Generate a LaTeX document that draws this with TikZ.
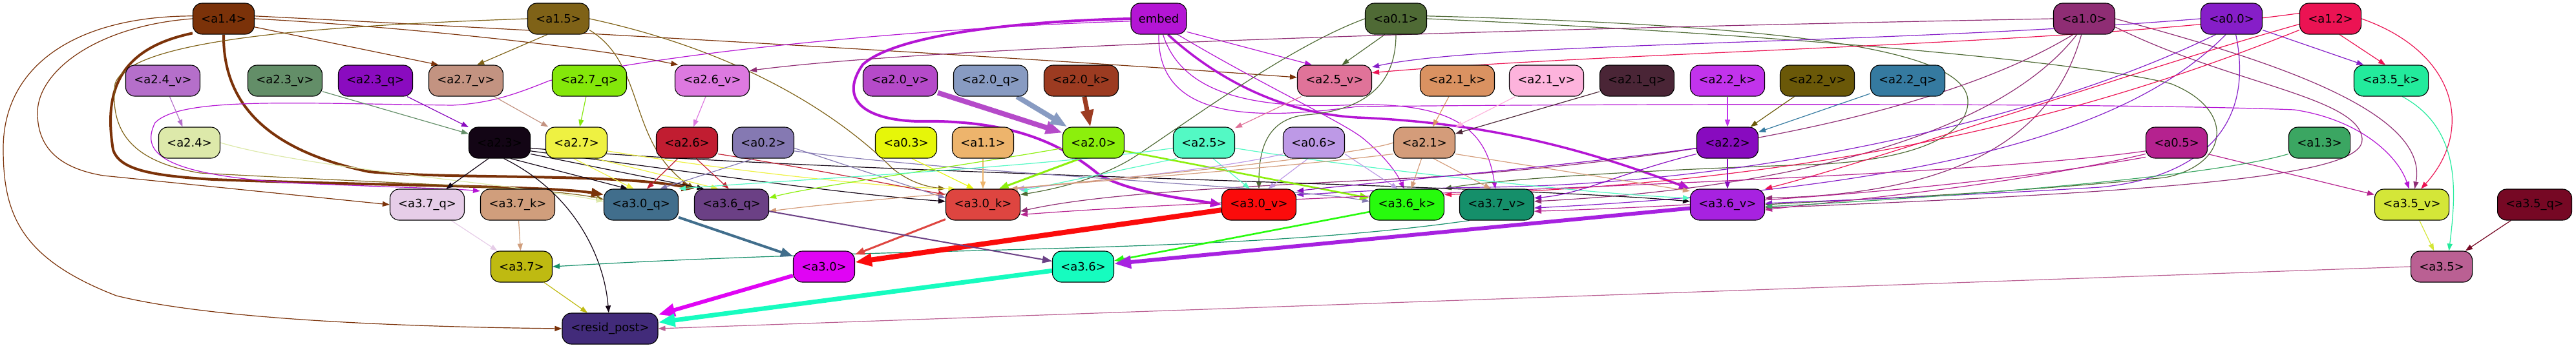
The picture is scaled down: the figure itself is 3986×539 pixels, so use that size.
\documentclass[tikz,border=0pt]{standalone}
\usepackage{fontspec}
\setmainfont{DejaVu Sans}
\usetikzlibrary{arrows.meta}
\pgfdeclarelayer{bg}
\pgfsetlayers{bg,main}
\definecolor{c14}{HTML}{7B3209}\definecolor{c15}{HTML}{7F6217}\definecolor{cemb}{HTML}{B415D4}
\definecolor{c01}{HTML}{4F6A35}\definecolor{c10}{HTML}{8F2D74}\definecolor{c00}{HTML}{861EC8}
\definecolor{c12}{HTML}{EB1353}\definecolor{c24v}{HTML}{B56FCA}\definecolor{c23v}{HTML}{638E68}
\definecolor{c23q}{HTML}{8A0BBF}\definecolor{c27v}{HTML}{C39381}\definecolor{c27q}{HTML}{84E70A}
\definecolor{c26v}{HTML}{DD79E0}\definecolor{c20v}{HTML}{B54AC9}\definecolor{c20q}{HTML}{889BC2}
\definecolor{c20k}{HTML}{9C3B21}\definecolor{c25v}{HTML}{E07399}\definecolor{c21k}{HTML}{DA9261}
\definecolor{c21v}{HTML}{FDB3DC}\definecolor{c21q}{HTML}{4A2536}\definecolor{c22k}{HTML}{C233EC}
\definecolor{c22v}{HTML}{6A5808}\definecolor{c22q}{HTML}{357AA0}\definecolor{c35k}{HTML}{23EB9C}
\definecolor{c24}{HTML}{DDE9AA}\definecolor{c23}{HTML}{130515}\definecolor{c27}{HTML}{EEF142}
\definecolor{c26}{HTML}{C11D31}\definecolor{c02}{HTML}{8579B2}\definecolor{c03}{HTML}{E6F609}
\definecolor{c11}{HTML}{EDB46C}\definecolor{c20}{HTML}{8CEF0C}\definecolor{c25}{HTML}{53F9C4}
\definecolor{c06}{HTML}{BD99E6}\definecolor{c21}{HTML}{D49C7A}\definecolor{c22}{HTML}{880BBF}
\definecolor{c05}{HTML}{B5228F}\definecolor{c13}{HTML}{3BA662}\definecolor{c37q}{HTML}{E6CDE8}
\definecolor{c37k}{HTML}{D09E7C}\definecolor{c30q}{HTML}{416E8C}\definecolor{c36q}{HTML}{6B4085}
\definecolor{c30k}{HTML}{DE4540}\definecolor{c30v}{HTML}{FB0B0B}\definecolor{c36k}{HTML}{27FB0D}
\definecolor{c37v}{HTML}{158F6A}\definecolor{c36v}{HTML}{A722E0}\definecolor{c35v}{HTML}{D4E638}
\definecolor{c35q}{HTML}{760824}\definecolor{c37}{HTML}{BFBA11}\definecolor{c30}{HTML}{E004F4}
\definecolor{c36}{HTML}{16FCBF}\definecolor{c35}{HTML}{BA6093}\definecolor{cres}{HTML}{422B7A}
\tikzset{
 nd/.style={draw=black, line width=1.1bp, rounded corners=14bp, minimum height=48bp, inner sep=0pt, font=\fontsize{18}{21}\selectfont, text=black},
 wa/.style={minimum width=95bp},
 wb/.style={minimum width=115bp},
 ar/.style={-{Triangle[length=11bp,width=8bp]}, line width=1.2bp},
 arb/.style={-{Triangle[length=15bp,width=11bp]}, line width=2.6bp},
 arc/.style={-{Triangle[length=19bp,width=14bp]}, line width=4bp},
 ard/.style={-{Triangle[length=26bp,width=19bp]}, line width=7bp},
}
\begin{document}
\begin{tikzpicture}[x=1bp,y=-1bp]
\useasboundingbox (0,0) rectangle (3986,539);
% row 1
\node[nd,wa,fill=c14] (a14) at (346,29) {<a1.4>};
\node[nd,wa,fill=c15] (a15) at (864,29) {<a1.5>};
\node[nd,minimum width=86bp,fill=cemb] (embed) at (1793,29) {embed};
\node[nd,wa,fill=c01] (a01) at (2160,29) {<a0.1>};
\node[nd,wa,fill=c10] (a10) at (3225,29) {<a1.0>};
\node[nd,wa,fill=c00] (a00) at (3453,29) {<a0.0>};
\node[nd,wa,fill=c12] (a12) at (3606,29) {<a1.2>};
% row 2
\node[nd,wb,fill=c24v] (a24v) at (252,125) {<a2.4\_v>};
\node[nd,wb,fill=c23v] (a23v) at (441,125) {<a2.3\_v>};
\node[nd,wb,fill=c23q] (a23q) at (581,125) {<a2.3\_q>};
\node[nd,wb,fill=c27v] (a27v) at (721,125) {<a2.7\_v>};
\node[nd,wb,fill=c27q] (a27q) at (912,125) {<a2.7\_q>};
\node[nd,wb,fill=c26v] (a26v) at (1102,125) {<a2.6\_v>};
\node[nd,wb,fill=c20v] (a20v) at (1393,125) {<a2.0\_v>};
\node[nd,wb,fill=c20q] (a20q) at (1533,125) {<a2.0\_q>};
\node[nd,wb,fill=c20k] (a20k) at (1673,125) {<a2.0\_k>};
\node[nd,wb,fill=c25v] (a25v) at (2065,125) {<a2.5\_v>};
\node[nd,wb,fill=c21k] (a21k) at (2255,125) {<a2.1\_k>};
\node[nd,wb,fill=c21v] (a21v) at (2393,125) {<a2.1\_v>};
\node[nd,wb,fill=c21q] (a21q) at (2533,125) {<a2.1\_q>};
\node[nd,wb,fill=c22k] (a22k) at (2673,125) {<a2.2\_k>};
\node[nd,wb,fill=c22v] (a22v) at (2812,125) {<a2.2\_v>};
\node[nd,wb,fill=c22q] (a22q) at (2952,125) {<a2.2\_q>};
\node[nd,wb,fill=c35k] (a35k) at (3700,125) {<a3.5\_k>};
% row 3
\node[nd,wa,fill=c24] (a24) at (293,221) {<a2.4>};
\node[nd,wa,fill=c23] (a23) at (773,221) {<a2.3>};
\node[nd,wa,fill=c27] (a27) at (892,221) {<a2.7>};
\node[nd,wa,fill=c26] (a26) at (1063,221) {<a2.6>};
\node[nd,wa,fill=c02] (a02) at (1181,221) {<a0.2>};
\node[nd,wa,fill=c03] (a03) at (1402,221) {<a0.3>};
\node[nd,wa,fill=c11] (a11) at (1521,221) {<a1.1>};
\node[nd,wa,fill=c20] (a20) at (1692,221) {<a2.0>};
\node[nd,wa,fill=c25] (a25) at (1863,221) {<a2.5>};
\node[nd,wa,fill=c06] (a06) at (2033,221) {<a0.6>};
\node[nd,wa,fill=c21] (a21) at (2204,221) {<a2.1>};
\node[nd,wa,fill=c22] (a22) at (2673,221) {<a2.2>};
\node[nd,wa,fill=c05] (a05) at (3368,221) {<a0.5>};
\node[nd,wa,fill=c13] (a13) at (3589,221) {<a1.3>};
% row 4
\node[nd,wb,fill=c37q] (a37q) at (661,317) {<a3.7\_q>};
\node[nd,wb,fill=c37k] (a37k) at (801,317) {<a3.7\_k>};
\node[nd,wb,fill=c30q] (a30q) at (992,317) {<a3.0\_q>};
\node[nd,wb,fill=c36q] (a36q) at (1132,317) {<a3.6\_q>};
\node[nd,wb,fill=c30k] (a30k) at (1521,317) {<a3.0\_k>};
\node[nd,wb,fill=c30v] (a30v) at (1948,317) {<a3.0\_v>};
\node[nd,wb,fill=c36k] (a36k) at (2177,317) {<a3.6\_k>};
\node[nd,wb,fill=c37v] (a37v) at (2316,317) {<a3.7\_v>};
\node[nd,wb,fill=c36v] (a36v) at (2673,317) {<a3.6\_v>};
\node[nd,wb,fill=c35v] (a35v) at (3732,317) {<a3.5\_v>};
\node[nd,wb,fill=c35q] (a35q) at (3922,317) {<a3.5\_q>};
% row 5
\node[nd,wa,fill=c37] (a37) at (807,413) {<a3.7>};
\node[nd,wa,fill=c30] (a30) at (1275,413) {<a3.0>};
\node[nd,wa,fill=c36] (a36) at (1676,413) {<a3.6>};
\node[nd,wa,fill=c35] (a35) at (3778,413) {<a3.5>};
% row 6
\node[nd,minimum width=148bp,fill=cres] (resid) at (944,509) {<resid\_post>};

\begin{pgfonlayer}{bg}
% a1.4
\draw[ar,c14] (a14.-15) -- (a27v.150);
\draw[ar,c14] (a14.east) .. controls (600,40) and (900,70) .. (a26v.155);
\draw[ar,c14] (a14.5) .. controls (900,50) and (1600,90) .. (a25v.175);
\draw[ar,c14] (a14.west) .. controls (150,40) and (58,110) .. (58,175) .. controls (58,235) and (100,262) .. (160,272) -- (a37q.west);
\draw[ar,c14] (a14.175) .. controls (120,25) and (5,100) .. (5,230) .. controls (5,330) and (30,400) .. (180,458) .. controls (350,500) and (700,507) .. (resid.west);
\draw[arc,c14] (a14.205) .. controls (185,75) and (160,140) .. (175,232) .. controls (185,262) and (230,272) .. (330,278) .. controls (600,288) and (850,288) .. (a30q.165);
\draw[arc,c14] (a14.south) .. controls (345,150) and (400,230) .. (571,266) .. controls (700,278) and (950,268) .. (a36q.north west);
% a1.5
\draw[ar,c15] (a15.235) -- (a27v.55);
\draw[ar,c15] (a15.west) .. controls (500,40) and (200,60) .. (178,130) .. controls (170,200) and (200,250) .. (310,268) .. controls (600,284) and (850,290) .. (a30q.172);
\draw[ar,c15] (a15.-20) .. controls (1000,100) and (970,220) .. (a36q.north west);
\draw[ar,c15] (a15.east) .. controls (1150,80) and (1300,180) .. (1380,260) .. controls (1410,285) and (1440,290) .. (a30k.north west);
% embed
\draw[ar,cemb] (embed.-25) -- (a25v.145);
\draw[-{Triangle[length=17bp,width=13bp]},line width=3.5bp,cemb] (embed.-60) .. controls (1880,120) and (1980,175) .. (2100,182) .. controls (2300,190) and (2450,230) .. (a36v.north west);
\draw[-{Triangle[length=17bp,width=13bp]},line width=4bp,cemb] (embed.west) .. controls (1600,32) and (1390,50) .. (1335,100) .. controls (1300,150) and (1330,185) .. (1420,188) .. controls (1560,185) and (1640,220) .. (1700,270) .. controls (1750,300) and (1850,310) .. (a30v.west);
\draw[ar,cemb] (embed.185) .. controls (1500,40) and (1050,75) .. (850,125) .. controls (800,145) and (760,160) .. (700,163) .. controls (450,160) and (280,150) .. (240,190) .. controls (215,240) and (260,270) .. (446,283) .. controls (600,290) and (700,292) .. (a37k.160);
\draw[ar,cemb] (embed.south) .. controls (1790,190) and (1950,185) .. (2100,165) .. controls (2600,160) and (3300,160) .. (3550,170) .. controls (3650,185) and (3710,240) .. (a35v.100);
\draw[ar,cemb] (embed.-75) .. controls (1830,150) and (1950,170) .. (2100,162) .. controls (2250,160) and (2300,200) .. (a37v.95);
\draw[ar,cemb] (embed.-40) .. controls (1950,130) and (2080,190) .. (2110,215) .. controls (2140,240) and (2160,265) .. (a36k.100);
% a0.1
\draw[ar,c01] (a01.235) -- (a25v.65);
\draw[ar,c01] (a01.west) .. controls (2000,70) and (1850,180) .. (1760,240) .. controls (1700,280) and (1620,295) .. (a30k.15);
\draw[ar,c01] (a01.south) .. controls (2160,140) and (2100,172) .. (2020,178) .. controls (1955,185) and (1948,240) .. (a30v.north);
\draw[ar,c01] (a01.5) .. controls (2800,40) and (3050,80) .. (3045,160) .. controls (3040,230) and (2900,252) .. (2800,255) .. controls (2500,265) and (2300,280) .. (a36k.north east);
\draw[ar,c01] (a01.east) .. controls (2800,55) and (3250,100) .. (3360,130) .. controls (3460,170) and (3450,255) .. (3350,275) .. controls (3100,300) and (2850,310) .. (a36v.east);
% a1.0
\draw[ar,c10] (a10.west) .. controls (2600,40) and (1500,65) .. (a26v.15);
\draw[ar,c10] (a10.235) .. controls (3000,180) and (2600,250) .. (2200,275) .. controls (1900,290) and (1700,300) .. (a30k.-10);
\draw[ar,c10] (a10.245) .. controls (3100,200) and (2800,290) .. (a37v.5);
\draw[ar,c10] (a10.260) .. controls (3180,200) and (3050,300) .. (a36v.10);
\draw[ar,c10] (a10.east) .. controls (3500,90) and (3760,170) .. (a35v.80);
\draw[ar,c10] (a10.-15) .. controls (3450,130) and (3650,150) .. (3655,215) .. controls (3660,270) and (3400,295) .. (a36v.-5);
% a0.0
\draw[ar,c00] (a00.west) .. controls (2900,70) and (2300,65) .. (a25v.20);
\draw[ar,c00] (a00.-20) -- (a35k.150);
\draw[ar,c00] (a00.225) .. controls (3150,190) and (2700,285) .. (2300,290) .. controls (2150,292) and (2050,300) .. (a30v.15);
\draw[ar,c00] (a00.250) .. controls (3300,200) and (3000,290) .. (a37v.-5);
\draw[ar,c00] (a00.285) .. controls (3490,200) and (3400,275) .. (3250,290) .. controls (3000,305) and (2800,312) .. (a36v.2);
% a1.2
\draw[ar,c12] (a12.-60) -- (a35k.110);
\draw[ar,c12] (a12.east) .. controls (3800,80) and (3830,200) .. (a35v.60);
\draw[ar,c12] (a12.170) .. controls (3200,70) and (2500,80) .. (a25v.12);
\draw[ar,c12] (a12.190) .. controls (3300,110) and (2900,250) .. (a36v.north east);
\draw[ar,c12] (a12.200) .. controls (3300,150) and (2900,280) .. (a36k.15);
% row2 -> row3
\draw[ar,c24v] (a24v) -- (a24);
\draw[ar,c23v] (a23v) -- (a23);
\draw[ar,c23q] (a23q) -- (a23);
\draw[ar,c27v] (a27v) -- (a27);
\draw[ar,c27q] (a27q) -- (a27);
\draw[ar,c26v] (a26v) -- (a26);
\draw[ard,line width=8bp,c20v] (a20v) -- (a20);
\draw[ard,line width=8bp,c20q] (a20q) -- (a20);
\draw[ard,c20k] (a20k) -- (a20);
\draw[ar,c25v] (a25v) -- (a25);
\draw[ar,c21k] (a21k) -- (a21);
\draw[ar,c21v] (a21v) -- (a21);
\draw[ar,c21q] (a21q) -- (a21);
\draw[ar,c22k] (a22k) -- (a22);
\draw[ar,c22v] (a22v) -- (a22);
\draw[ar,c22q] (a22q) -- (a22);
% row3 -> row4
\draw[ar,c24] (a24.east) .. controls (480,262) and (800,285) .. (a30q.175);
\draw[ar,c23] (a23.235) -- (a37q.40);
\draw[ar,c23] (a23.-55) -- (a30q.130);
\draw[ar,c23] (a23.-20) -- (a36q.150);
\draw[ar,c23] (a23.-15) .. controls (1100,270) and (1300,300) .. (a30k.175);
\draw[ar,c23] (a23.-10) .. controls (1300,270) and (2300,285) .. (a36v.175);
\draw[ar,c23] (a23.-75) .. controls (890,300) and (935,400) .. (resid.95);
\draw[ar,c27] (a27.-100) -- (a30q.115);
\draw[ar,c27] (a27.-40) -- (a36q.130);
\draw[ar,c27] (a27.-15) .. controls (1100,260) and (1350,290) .. (a30k.150);
\draw[ar,c26] (a26.-120) -- (a30q.70);
\draw[ar,c26] (a26.-60) -- (a36q.100);
\draw[ar,c26] (a26.-20) .. controls (1250,260) and (1400,290) .. (a30k.165);
\draw[ar,c02] (a02.-120) -- (a30q.40);
\draw[ar,c02] (a02.-10) -- (a30k.170);
\draw[ar,c02] (a02.-15) .. controls (1500,270) and (2000,290) .. (a36k.175);
\draw[ar,c03] (a03.-70) -- (a30k.120);
\draw[ar,c11] (a11) -- (a30k);
\draw[arb,line width=3bp,c20] (a20.-130) -- (a30k.45);
\draw[arb,c20] (a20.-15) -- (a36k.170);
\draw[ar,c20] (a20.-170) .. controls (1500,255) and (1250,290) .. (a36q.10);
\draw[ar,c25] (a25.-170) .. controls (1600,260) and (1200,280) .. (a30q.north east);
\draw[ar,c25] (a25.-150) -- (a30k.20);
\draw[ar,c25] (a25.-60) -- (a30v.120);
\draw[ar,c25] (a25.-10) .. controls (2100,260) and (2450,300) .. (a36v.170);
\draw[ar,c06] (a06.-110) -- (a30v.60);
\draw[ar,c06] (a06.-20) -- (a36k.120);
\draw[ar,c06] (a06.-160) .. controls (1900,260) and (1700,280) .. (a30k.25);
\draw[ar,c21] (a21.west) .. controls (2100,240) and (1800,270) .. (a30k.30);
\draw[ar,c21] (a21.-100) -- (a36k.75);
\draw[ar,c21] (a21.-60) -- (a37v.110);
\draw[ar,c21] (a21.-20) -- (a36v.160);
\draw[ar,c21] (a21.200) .. controls (1900,270) and (1400,300) .. (a36q.-10);
\draw[ar,c22] (a22) -- (a36v);
\draw[ar,c22] (a22.190) .. controls (2400,260) and (2100,285) .. (a30v.20);
\draw[ar,c22] (a22.200) .. controls (2500,270) and (2450,300) .. (a37v.10);
\draw[ar,c05] (a05.-20) -- (a35v.165);
\draw[ar,c05] (a05.195) .. controls (3000,280) and (2000,300) .. (a30k.-15);
\draw[ar,c05] (a05.200) .. controls (3100,290) and (2850,310) .. (a36v.-8);
\draw[ar,c05] (a05.205) .. controls (3000,300) and (2600,320) .. (a37v.-10);
\draw[ar,c13] (a13.200) .. controls (3400,280) and (2900,312) .. (a36v.-3);
\draw[ar,c35k] (a35k.-55) .. controls (3810,200) and (3800,300) .. (a35.65);
\draw[ar,c35v] (a35v) -- (a35);
\draw[ar,c35q] (a35q) -- (a35);
% row4 -> row5
\draw[ar,c37k] (a37k) -- (a37);
\draw[ar,c37q] (a37q) -- (a37);
\draw[ar,c37v] (a37v.210) .. controls (1900,395) and (1400,380) .. (a37.east);
\draw[arc,c30q] (a30q) -- (a30);
\draw[arb,line width=3bp,c30k] (a30k) -- (a30);
\draw[ard,line width=8bp,c30v] (a30v) -- (a30);
\draw[arb,line width=2bp,c36q] (a36q) -- (a36);
\draw[arb,c36k] (a36k) -- (a36);
\draw[ard,line width=6bp,c36v] (a36v) -- (a36);
% row5 -> resid
\draw[ar,c37] (a37) -- (resid);
\draw[ard,line width=6bp,c30] (a30) -- (resid);
\draw[ard,c36] (a36) -- (resid);
\draw[ar,c35] (a35.west) -- (resid.east);
\end{pgfonlayer}
\end{tikzpicture}
\end{document}
